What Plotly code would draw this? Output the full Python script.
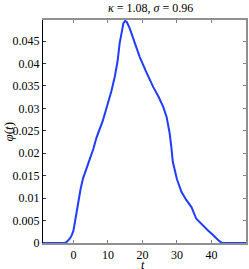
import plotly.graph_objects as go

t_vals = [-8.8, -3.0, -2.5, -2.0, -1.5, -1.0, -0.5, 0.0, 0.7, 1.4, 2.1, 2.8, 3.8, 4.8, 5.8, 6.7, 8.5,
          10.1, 11.0, 12.0, 12.8, 13.4, 14.0, 14.5, 15.0, 15.5, 16.3, 17.5, 19.2, 21.0, 23.1, 24.6,
          26.0, 27.0, 27.9, 28.4, 28.8, 30.0, 31.3, 32.7, 34.2, 35.6, 37.3, 39.0, 40.3, 41.4,
          42.3, 43.1, 50.0]
phi_vals = [0.0, 0.0, 0.0, 0.0002, 0.0005, 0.001, 0.0017, 0.0027, 0.0058, 0.0092, 0.0121, 0.0144,
            0.0168, 0.0188, 0.021, 0.0235, 0.0272, 0.0311, 0.0338, 0.0371, 0.0405, 0.0445, 0.0474,
            0.049, 0.0495, 0.0492, 0.0479, 0.0452, 0.0415, 0.0383, 0.0348, 0.0327, 0.0304, 0.0281,
            0.0244, 0.0212, 0.0181, 0.0142, 0.0114, 0.0096, 0.008, 0.0054, 0.004, 0.0028, 0.0019,
            0.001, 0.0004, 0.0, 0.0]

y_ticks = [0, 0.005, 0.01, 0.015, 0.02, 0.025, 0.03, 0.035, 0.04, 0.045]
y_labels = ["0", "0.005", "0.01", "0.015", "0.02", "0.025", "0.03", "0.035", "0.04", "0.045"]
x_ticks = [0, 10, 20, 30, 40]

x_range = [-8.8, 50]
y_range = [0, 0.0497]

font = "Liberation Serif"

fig = go.Figure()
fig.add_trace(go.Scatter(x=t_vals, y=phi_vals, mode="lines",
                         line=dict(color="#1f3cff", width=2), showlegend=False))
fig.add_trace(go.Scatter(x=[x_range[0]], y=[0], yaxis="y2", mode="markers",
                         marker=dict(opacity=0), showlegend=False, hoverinfo="skip"))

fig.update_layout(
    width=249, height=269,
    margin=dict(l=43, r=3, t=20, b=26, autoexpand=False),
    paper_bgcolor="white", plot_bgcolor="white",
    font=dict(family=font, size=12, color="black"),
    xaxis=dict(range=x_range, tickvals=x_ticks, ticks="inside", ticklen=3, tickcolor="#808080",
               showline=True, linecolor="#909090", linewidth=1.5, mirror="ticks",
               showgrid=False, zeroline=False, automargin=False),
    yaxis=dict(range=y_range, tickvals=y_ticks, ticktext=y_labels, ticks="inside", ticklen=3,
               tickcolor="#333333", showline=True, linecolor="black", linewidth=1,
               showgrid=False, zeroline=False, automargin=False),
    yaxis2=dict(range=y_range, overlaying="y", side="right", tickvals=y_ticks,
                showticklabels=False, ticks="inside", ticklen=3, tickcolor="#808080",
                showline=True, linecolor="#909090", linewidth=2, showgrid=False,
                zeroline=False, automargin=False),
    annotations=[
        dict(text="<i>κ</i> = 1.08, <i>σ</i> = 0.96", xref="paper", yref="paper",
             x=(150 - 43) / 203, y=1 + 12 / 223, xanchor="center", yanchor="middle",
             showarrow=False, font=dict(family=font, size=12)),
        dict(text="<i>t</i>", xref="paper", yref="paper", x=(143 - 43) / 203,
             y=-21.5 / 223, xanchor="center", yanchor="middle", showarrow=False,
             font=dict(family=font, size=12)),
        dict(text="<i>φ</i>(<i>t</i>)", xref="paper", yref="paper", x=-35 / 203,
             y=0.5, xanchor="center", yanchor="middle", textangle=-90, showarrow=False,
             font=dict(family=font, size=13)),
    ],
)

fig.write_html("out.html", config={"displayModeBar": False},
               post_script="document.body.style.margin='0';document.body.style.overflow='hidden';")
